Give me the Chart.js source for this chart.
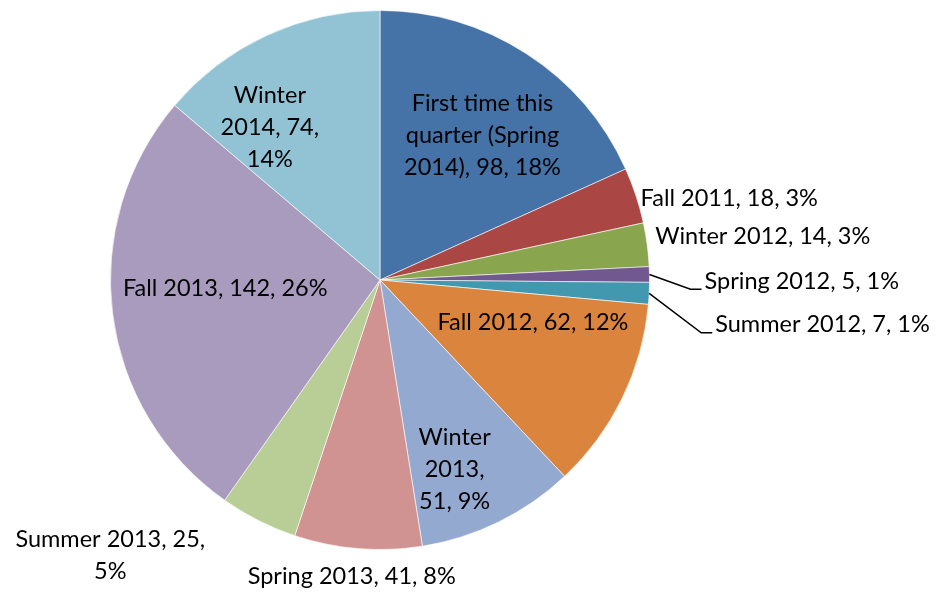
<!DOCTYPE html>
<html>
<head>
  <meta charset="UTF-8">
  <title>Students by first quarter</title>
  <style>
    body { margin: 0; background: #fff; }
    #wrap { width: 945px; height: 593px; }
  </style>
  <script src="https://cdn.jsdelivr.net/npm/chart.js"></script>
</head>
<body>
  <div id="wrap"><canvas id="chart" width="945" height="593"></canvas></div>
  <script>
    const categories = [
      'First time this quarter (Spring 2014)', 'Fall 2011', 'Winter 2012', 'Spring 2012',
      'Summer 2012', 'Fall 2012', 'Winter 2013', 'Spring 2013', 'Summer 2013',
      'Fall 2013', 'Winter 2014'
    ];
    const counts = [98, 18, 14, 5, 7, 62, 51, 41, 25, 142, 74];
    const colors = ['#4572A7', '#AA4643', '#89A54E', '#71588F', '#4198AF', '#DB843D',
                    '#93A9CF', '#D19392', '#B9CD96', '#A99BBD', '#92C3D5'];

    // label text lines as wrapped in the original
    const labelLines = [
      ['First time this', 'quarter (Spring', '2014), 98, 18%'],
      ['Fall 2011, 18, 3%'],
      ['Winter 2012, 14, 3%'],
      ['Spring 2012, 5, 1%'],
      ['Summer 2012, 7, 1%'],
      ['Fall 2012, 62, 12%'],
      ['Winter', '2013,', '51, 9%'],
      ['Spring 2013, 41, 8%'],
      ['Summer 2013, 25,', '5%'],
      ['Fall 2013, 142, 26%'],
      ['Winter', '2014, 74,', '14%']
    ];
    // placement: radius factor along slice middle, pixel nudge, alignment, leader line
    const labelPlace = [
      { f: 0.66, dx: 6, dy: 5, align: 'center' },
      { f: 1.03, dx: -3, dy: 5, align: 'left' },
      { f: 1.03, dx: 0, dy: -7, align: 'left' },
      { f: 1.03, dx: 47, dy: 7, align: 'left', leader: true },
      { f: 1.03, dx: 58, dy: 31, align: 'left', leader: true },
      { f: 0.59, dx: 10, dy: -27, align: 'center' },
      { f: 0.755, dx: -15, dy: 7, align: 'center' },
      { f: 1.1, dx: -4, dy: 1, align: 'center' },
      { f: 1.1, dx: -136, dy: 11, align: 'center' },
      { f: 0.575, dx: -1, dy: -11, align: 'center' },
      { f: 0.7, dx: -31, dy: 19, align: 'center' }
    ];

    const sliceLabels = {
      id: 'sliceLabels',
      afterDatasetsDraw(chart) {
        const ctx = chart.ctx;
        const arcs = chart.getDatasetMeta(0).data;
        ctx.save();
        ctx.font = '23.5px Lato, "Open Sans", sans-serif';
        ctx.fillStyle = '#000';
        ctx.textBaseline = 'middle';
        const lh = 32;
        arcs.forEach((arc, i) => {
          const p = labelPlace[i];
          const mid = (arc.startAngle + arc.endAngle) / 2;
          const r = arc.outerRadius;
          const x = arc.x + Math.cos(mid) * r * p.f + p.dx;
          const y = arc.y + Math.sin(mid) * r * p.f + p.dy;
          const lines = labelLines[i];
          ctx.textAlign = p.align;
          lines.forEach((t, k) => {
            ctx.fillText(t, x, y + (k - (lines.length - 1) / 2) * lh);
          });
          if (p.leader) {
            ctx.beginPath();
            ctx.strokeStyle = '#000';
            ctx.lineWidth = 1.5;
            ctx.moveTo(arc.x + Math.cos(mid) * r, arc.y + Math.sin(mid) * r);
            ctx.lineTo(x - 14, y + 8);
            ctx.lineTo(x - 3, y + 8);
            ctx.stroke();
          }
        });
        ctx.restore();
      }
    };

    new Chart(document.getElementById('chart').getContext('2d'), {
      type: 'pie',
      data: {
        labels: categories,
        datasets: [{
          data: counts,
          backgroundColor: colors,
          borderColor: 'rgba(255,255,255,0.6)',
          borderWidth: 1
        }]
      },
      options: {
        responsive: false,
        animation: false,
        layout: { padding: { left: 110, right: 295, top: 10, bottom: 43 } },
        plugins: {
          legend: { display: false },
          tooltip: { enabled: false }
        }
      },
      plugins: [sliceLabels]
    });
  </script>
</body>
</html>
